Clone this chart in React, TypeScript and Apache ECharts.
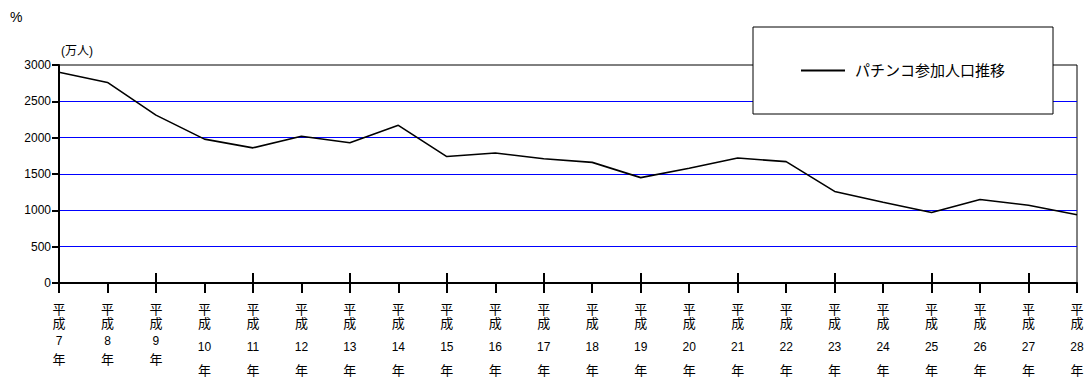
import React, { useEffect, useRef } from "react";
import * as echarts from "echarts";

const years: string[] = ["7","8","9","10","11","12","13","14","15","16","17","18","19","20","21","22","23","24","25","26","27","28"];
const categories: string[] = years.map((y) => `平成${y}年`);
const participants: number[] = [2900,2760,2310,1980,1860,2020,1930,2170,1740,1790,1710,1660,1450,1580,1720,1670,1260,1110,970,1150,1070,940];
const seriesName = "パチンコ参加人口推移";
const yUnit = "(万人)";
const cornerMark = "%";

const FONT = "'Liberation Sans', 'Noto Sans CJK JP', sans-serif";

export default function App() {
  const ref = useRef<HTMLDivElement>(null);
  useEffect(() => {
    if (!ref.current) return;
    const chart = echarts.init(ref.current, undefined, { renderer: "svg" });
    const labelFmt = (v: string) => {
      const m = v.match(/^平成(\d+)年$/);
      const n = m ? m[1] : "";
      const tag = n.length > 1 ? "n2" : "n1";
      return `{a|平}\n{a|成}\n{${tag}|${n}}\n{a|年}`;
    };
    chart.setOption({
      animation: false,
      backgroundColor: "#fff",
      textStyle: { fontFamily: FONT },
      graphic: [
        { type: "text", left: 10, top: 10, style: { text: cornerMark, fontSize: 14, fill: "#000", fontFamily: FONT } },
      ],
      grid: {
        left: 59, right: 15, top: 65, bottom: 94,
        show: true, borderColor: "#000", borderWidth: 1, backgroundColor: "transparent",
        containLabel: false, outerBoundsMode: "none",
      },
      legend: {
        show: true,
        left: 753, top: 27,
        padding: [36, 48, 36, 48],
        backgroundColor: "#fff",
        borderColor: "#000",
        borderWidth: 1,
        borderRadius: 0,
        itemWidth: 44, itemHeight: 2,
        icon: "rect",
        data: [{ name: seriesName, icon: "rect", itemStyle: { color: "#000" } }],
        textStyle: { fontSize: 15, color: "#000", fontFamily: FONT, padding: [0, 0, 0, 5] },
      },
      xAxis: [
        {
          type: "category",
          data: categories,
          boundaryGap: false,
          axisLine: { show: true, lineStyle: { color: "#000", width: 2 } },
          axisTick: { show: true, length: 10, lineStyle: { color: "#000", width: 2 } },
          splitLine: { show: false },
          axisLabel: {
            show: true,
            interval: 0,
            margin: 19,
            color: "#000",
            verticalAlign: "top",
            formatter: labelFmt,
            rich: {
              a: { fontSize: 13, lineHeight: 14, fontFamily: FONT, color: "#000", align: "center" },
              n1: { fontSize: 12, lineHeight: 22, fontFamily: FONT, color: "#000", align: "center" },
              n2: { fontSize: 12, lineHeight: 33, fontFamily: FONT, color: "#000", align: "center" },
            },
          },
        },
        {
          type: "category",
          data: categories,
          boundaryGap: false,
          position: "bottom",
          axisLine: { show: false },
          axisTick: { show: true, inside: true, length: 10, lineStyle: { color: "#000", width: 2 } },
          axisLabel: { show: false },
          splitLine: { show: false },
        },
      ],
      yAxis: {
        type: "value",
        min: 0, max: 3000, interval: 500,
        name: yUnit,
        nameLocation: "end",
        nameGap: 8,
        nameTextStyle: { color: "#000", fontSize: 12, fontFamily: FONT, align: "left", verticalAlign: "bottom", padding: [0, 0, 0, 2] },
        axisLine: { show: true, lineStyle: { color: "#000", width: 2 } },
        axisTick: { show: true, length: 7, lineStyle: { color: "#000", width: 2 } },
        axisLabel: { color: "#000", fontSize: 12, margin: 8, fontFamily: FONT, formatter: (v: number) => String(v) },
        splitLine: { show: true, showMaxLine: false, lineStyle: { color: "#0000ff", width: 1 } },
      },
      series: [
        {
          name: seriesName,
          type: "line",
          data: participants,
          xAxisIndex: 0,
          symbol: "none",
          lineStyle: { color: "#000", width: 1.6 },
          itemStyle: { color: "#000" },
          z: 3,
        },
      ],
    });
    return () => chart.dispose();
  }, []);
  return <div ref={ref} style={{ position: "fixed", left: 0, top: 0, width: 1092, height: 377 }} />;
}
